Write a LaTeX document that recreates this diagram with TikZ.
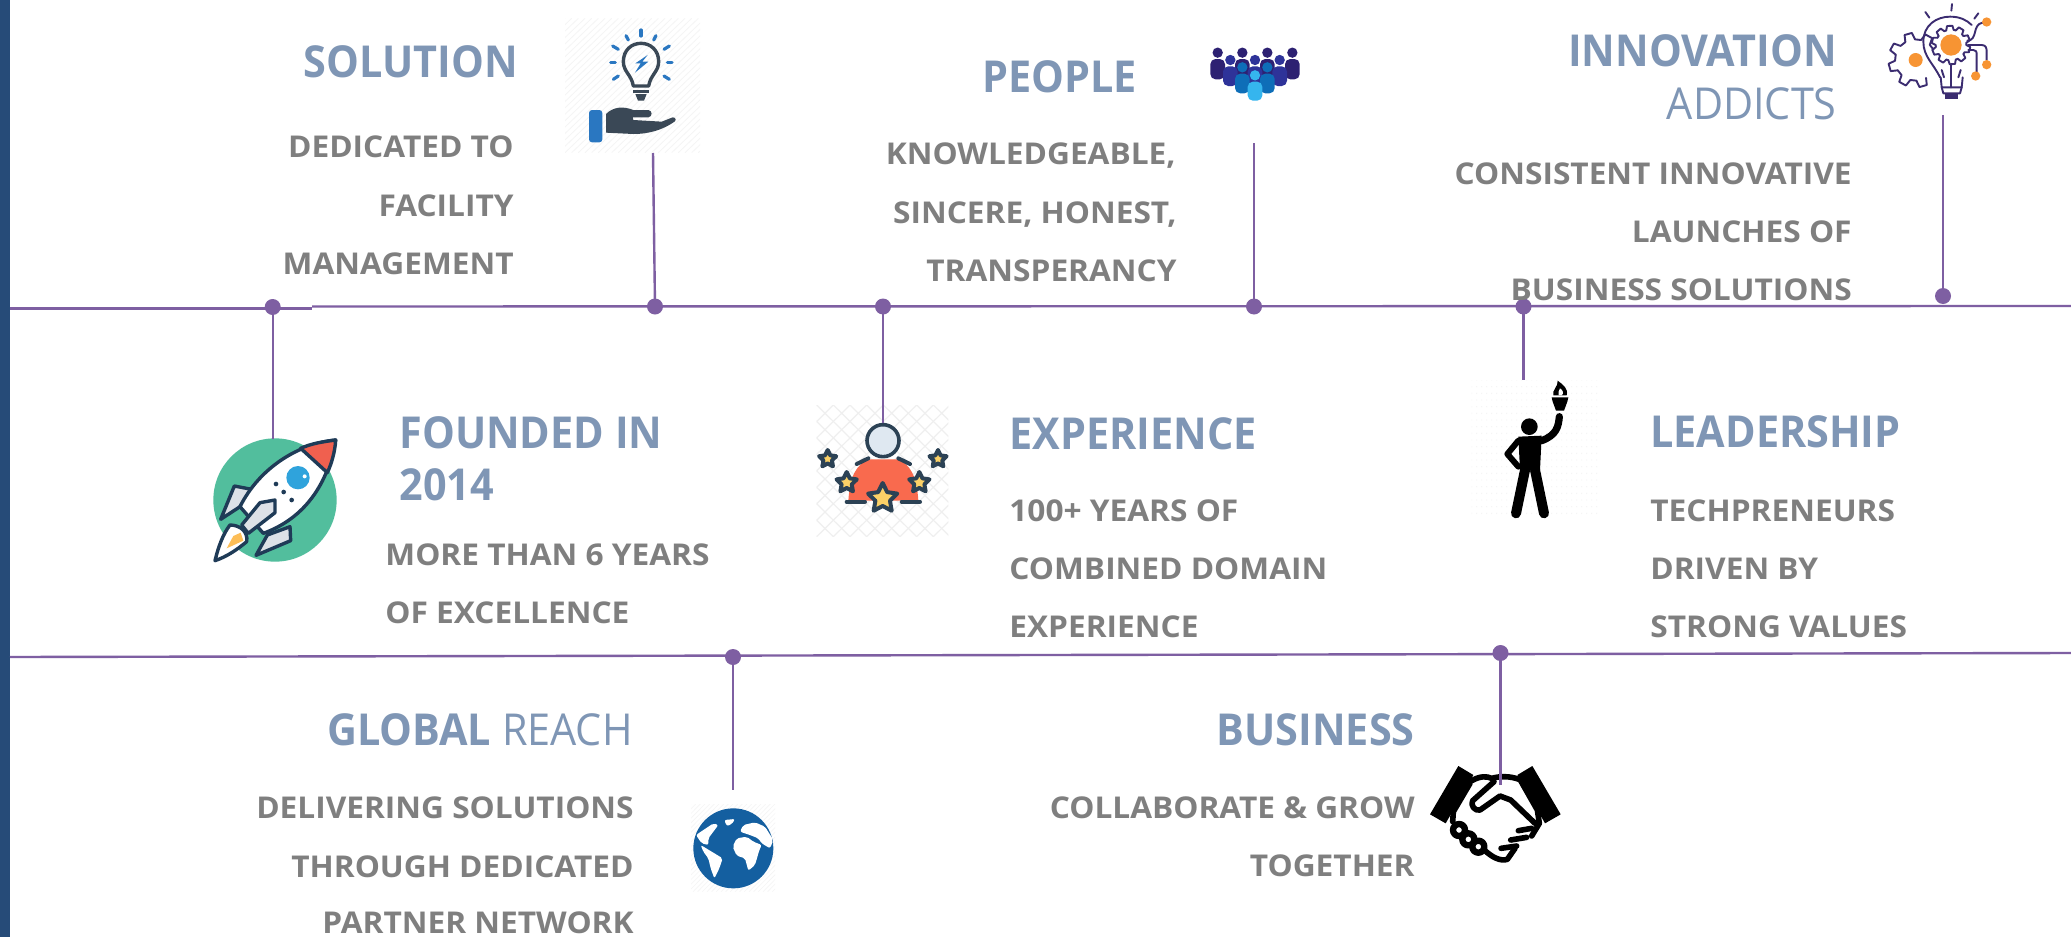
\documentclass[tikz,border=0pt]{standalone}
\usepackage{fontspec}
\setmainfont{Open Sans}
\newfontfamily\headf[FakeStretch=0.94]{Open Sans}
\newfontfamily\bodyf[FakeStretch=1.055]{Open Sans}
\usetikzlibrary{calc}
\definecolor{tl}{HTML}{7E5FA2}
\definecolor{ttl}{HTML}{7F96B5}
\definecolor{bdy}{HTML}{7F7F7F}
\definecolor{barc}{HTML}{264B78}
\definecolor{slate}{HTML}{3A4856}
\definecolor{bblue}{HTML}{2A77C1}
\definecolor{gpurp}{HTML}{3B2C70}
\definecolor{gor}{HTML}{F79433}
\definecolor{rdark}{HTML}{1F3B57}
\definecolor{fnt}{HTML}{EFEFEF}
\definecolor{pa}{HTML}{2D2172}
\definecolor{pb}{HTML}{2E3399}
\definecolor{pc}{HTML}{0E6EB8}
\definecolor{pd}{HTML}{35B5EE}
\definecolor{rockg}{HTML}{52BE9D}
\definecolor{rockr}{HTML}{F0604F}
\definecolor{rockb}{HTML}{2FA3DC}
\definecolor{rockf}{HTML}{FDBE57}
\definecolor{expr}{HTML}{F96A4E}
\definecolor{expy}{HTML}{FBD167}
\definecolor{expd}{HTML}{2C4255}
\definecolor{exph}{HTML}{DFE8F1}
\definecolor{glb}{HTML}{145FA0}
\tikzset{
 headtxt/.style={inner sep=0pt,text=ttl,font=\headf\fontsize{22}{26}\selectfont\bfseries},
 bodytxt/.style={inner sep=0pt,text=bdy,font=\bodyf\fontsize{15}{18}\selectfont\bfseries},
 tldot/.style={circle,fill=tl,inner sep=0pt,minimum size=8pt},
 tlline/.style={draw=tl,line width=1.2pt},
 icon/.style={x=0.16667pt,y=-0.16667pt},
}
\newcommand\zstar[3]{\begin{scope}[shift={(#1,#2)}]
 \draw[fill=expy,draw=expd,line width=2pt,line join=round]
 (270:#3)--(306:#3*.5)--(342:#3)--(18:#3*.5)--(54:#3)--(90:#3*.5)--(126:#3)--(162:#3*.5)--(198:#3)--(234:#3*.5)--cycle;
 \end{scope}}
\newcommand\zperson[4]{\fill[#4] (#1,#2) circle (15.5);
 \fill[#4,rounded corners=2.6pt] (#1-22,#3) -- (#1-22,#2+19) -- (#1+22,#2+19) -- (#1+22,#3) -- cycle;}
\begin{document}
\begin{tikzpicture}[x=0.5pt,y=-0.5pt]
\useasboundingbox (0,0) rectangle (2071,937);
\fill[white] (0,0) rectangle (2071,937);
\fill[barc] (0,0) rectangle (10,937);

% ---- icons ----
% bulb and hand
\begin{scope}[shift={(550,10)},icon]
 \begin{scope}
  \clip (45,25) rectangle (450,428);
  \foreach \i in {0,20,...,860} \draw[fnt!60!white,line width=.4pt] (45+\i-420,428)--(45+\i,25);
 \end{scope}
 \draw[slate,line width=1.7pt,line join=round] (250,228) .. controls (245,195) and (220,185) .. (220,155) .. controls (220,120) and (245,100) .. (273,100) .. controls (301,100) and (326,120) .. (326,155) .. controls (326,185) and (301,195) .. (296,228) -- cycle;
 \draw[slate,line width=1.5pt] (250,243)--(296,243);
 \fill[slate] (256,252)--(290,252)--(282,272)--(264,272)--cycle;
 \fill[bblue] (293,135)--(256,160)--(272,160)--(255,188)--(295,155)--(277,155)--cycle;
 \foreach \a/\b/\c/\d in {273/60/273/78,228/77/235/90,318/77/311/90,188/108/205/118,358/108/342/118,182/157/196/157,352/157/366/157,190/208/205/198,358/208/342/198}
  \draw[bblue,line width=1.6pt,line cap=round] (\a,\b)--(\c,\d);
 \fill[bblue,rounded corners=1.5pt] (117,300)--(157,300)--(157,397)--(117,397)--cycle;
 \fill[slate] (168,312) .. controls (190,290) and (220,288) .. (250,300) -- (295,300) .. controls (308,302) and (308,320) .. (295,322) -- (248,322) -- (250,330) -- (335,335) -- (368,322) .. controls (378,322) and (380,332) .. (372,336) .. controls (340,358) and (300,372) .. (250,372) -- (168,368) -- cycle;
\end{scope}

% people
\begin{scope}[shift={(1190,10)},icon]
 \foreach \c in {83,157,232,307} {\zperson{\c}{128}{208}{pa}}
 \foreach \c in {121,195,269} {\zperson{\c}{150}{228}{pb}}
 \foreach \c in {157,232} {\zperson{\c}{172}{250}{pc}}
 \zperson{195}{196}{272}{pd}
\end{scope}

% gear bulb
\begin{scope}[shift={(1840,0)},icon]
 \begin{scope}[line width=.95pt,draw=gpurp,gpurp,line join=round,line cap=round]
  \foreach \p in {0,36,...,324} {
    \begin{scope}[shift={(333,135)},rotate=\p]
    \draw (0:46)--(6:58)--(22:58)--(28:46)--(36:46);
    \end{scope}}
  \foreach \p in {75,120,...,300} {
    \begin{scope}[shift={(227,180)},rotate=\p]
    \draw (0:62)--(6:82)--(22:82)--(28:62)--(45:62);
    \end{scope}}
  \draw (300,232) .. controls (280,190) and (250,170) .. (250,125) .. controls (250,75) and (290,50) .. (330,50) .. controls (360,50) and (380,60) .. (395,75);
  \draw (302,232) -- (305,262) -- (365,262) -- (368,232);
  \draw (305,262) -- (310,280) -- (360,280) -- (365,262);
  \fill (315,280) rectangle (355,298);
  \draw (333,195)--(333,262);
  \draw (305,210)--(312,232); \draw (362,210)--(355,232);
  \draw (382,122) .. controls (415,120) and (395,75) .. (427,68);
  \draw (385,135)--(425,135) .. controls (438,135) and (440,145) .. (440,155) -- (440,180);
  \draw (385,150)--(400,150) .. controls (408,150) and (410,155) .. (410,165) -- (410,215);
  \draw (336,12)--(334,32); \draw (256,36)--(268,53); \draw (415,40)--(403,56);
 \end{scope}
 \fill[gor] (333,135) circle (32);
 \fill[gor] (227,180) circle (21);
 \fill[gor] (440,66) circle (14);
 \fill[gor] (440,194) circle (14);
 \fill[gor] (407,228) circle (14);
\end{scope}

% rocket
\begin{scope}[shift={(180,410)},icon]
 \fill[rockg] (285,270) circle (185);
 \definecolor{fing}{HTML}{DDE1E7}
 \begin{scope}[draw=rdark,line width=1.7pt,line join=round]
  \draw[fill=fing] (163,228)--(215,238)--(180,290)--(122,328)--cycle;
  \draw[fill=fing] (330,350)--(332,392)--(228,436)--(262,375)--cycle;
  \draw[fill=white] (467,90) .. controls (360,100) and (240,170) .. (180,290) -- (250,370) .. controls (360,330) and (440,240) .. (467,90) -- cycle;
  \draw[fill=rockr] (362,115) .. controls (395,100) and (430,95) .. (467,90) .. controls (465,125) and (455,160) .. (442,188) -- cycle;
  \draw[fill=fing] (285,270)--(285,308)--(205,370)--(185,345)--(240,278)--cycle;
  \draw[fill=white] (105,452) .. controls (115,410) and (130,370) .. (150,345) .. controls (180,345) and (205,365) .. (200,395) .. controls (170,420) and (140,440) .. (105,452) -- cycle;
 \end{scope}
 \fill[rockf] (140,415) -- (160,378) -- (182,368) -- (190,392) -- cycle;
 \fill[rockb] (354,203) circle (35);
 \fill[white] (374,199) circle (6);
 \fill[rdark] (288,222) circle (7) (311,246) circle (7) (335,270) circle (7);
\end{scope}

% experience
\begin{scope}[shift={(800,390)},icon]
 \begin{scope}
  \clip (50,45) rectangle (445,440);
  \foreach \i in {0,50,...,800} {
   \draw[fnt,line width=.6pt] (50+\i-400,440)--(50+\i,45);
   \draw[fnt,line width=.6pt] (50+\i-400,45)--(50+\i,440);}
 \end{scope}
 \fill[expr] (145,332) .. controls (150,255) and (170,225) .. (205,208) -- (295,208) .. controls (330,225) and (350,255) .. (355,332) -- cycle;
 \draw[expd,line width=2pt,line cap=round] (170,222) -- (205,205);
 \draw[expd,line width=2pt,line cap=round] (330,222) -- (295,205);
 \draw[expd,line width=2pt,line cap=round] (140,335)--(195,335) (305,335)--(360,335);
 \draw[expd,line width=1.8pt,fill=exph] (249,152) circle (48);
 \zstar{83}{207}{27}
 \zstar{414}{207}{27}
 \zstar{140}{278}{32}
 \zstar{358}{278}{32}
 \zstar{248}{325}{46}
\end{scope}

% leader
\begin{scope}[shift={(1460,370)},icon]
 \begin{scope}
  \clip (35,30) rectangle (415,445);
  \foreach \i in {35,50,...,415} \foreach \j in {30,50,...,445}
   \fill[fnt!70!white] (\i,\j) circle (2);
 \end{scope}
 \fill[black] (208,170) circle (25);
 \fill[black] (175,200)--(245,197)--(240,300)--(180,300)--cycle;
 \draw[black,line width=3pt,line cap=round,line join=round] (175,212)--(142,252)--(175,290);
 \draw[black,line width=5pt,line cap=round] (195,300)--(168,430) (225,300)--(252,430);
 \draw[black,line width=3.6pt,line cap=round] (245,212) .. controls (290,195) and (295,170) .. (298,140);
 \fill[black] (275,82)--(325,82)--(322,95)--(312,122)--(288,122)--(278,95)--cycle;
 \fill[black] (293,32) .. controls (310,45) and (325,55) .. (320,76) -- (280,76) .. controls (275,60) and (295,50) .. (293,32) -- cycle;
 \fill[white] (300,55) .. controls (310,62) and (312,70) .. (305,76) -- (296,76) .. controls (292,68) and (298,62) .. (300,55) -- cycle;
\end{scope}

% globe
\begin{scope}[shift={(680,790)},icon]
 \begin{scope}
  \clip (33,42) rectangle (285,305);
  \foreach \i in {0,14,...,520} \draw[fnt!60!white,line width=.3pt] (33+\i-260,305)--(33+\i,42);
 \end{scope}
 \fill[glb] (160,175) circle (120);
 \begin{scope}
  \clip (160,175) circle (120);
  \begin{scope}[rounded corners=1pt]
  \fill[white] (48,135)--(100,100)--(115,105)--(100,125)--(85,145)--(85,165)--(65,160)--cycle;
  \fill[white] (62,165)--(95,185)--(128,205)--(118,235)--(103,265)--(92,235)--(85,205)--(70,185)--cycle;
  \fill[white] (133,90)--(165,87)--(155,103)--(140,108)--cycle;
  \fill[white] (158,170)--(170,145)--(200,140)--(220,155)--(245,165)--(238,180)--(225,225)--(205,242)--(195,205)--(170,197)--cycle;
  \fill[white] (180,125)--(190,105)--(225,97)--(255,110)--(280,150)--(270,175)--(245,160)--(235,145)--(210,135)--cycle;
  \end{scope}
 \end{scope}
\end{scope}

% handshake
\begin{scope}[shift={(1420,760)},icon]
 \fill[black] (115,18)--(160,45)--(77,190)--(30,163)--cycle;
 \fill[black] (337,18)--(422,163)--(375,190)--(292,45)--cycle;
 \begin{scope}[draw=black,line width=2.8pt,line join=round,line cap=round]
  \draw (155,62) .. controls (180,48) and (200,48) .. (215,55) .. controls (240,48) and (270,48) .. (297,58);
  \draw (150,70) -- (100,155) -- (98,185);
  \draw (302,62) -- (352,150) -- (358,190) -- (335,228);
  \draw (222,65) -- (158,122) .. controls (150,135) and (165,155) .. (180,150) -- (240,108) -- (272,120) -- (345,190);
  \draw (295,212) -- (335,205);
  \draw (272,240) -- (320,232);
  \draw (243,265) -- (290,258);
  \draw (195,272) .. controls (215,290) and (240,305) .. (262,298) -- (285,265);
  \draw[line width=3.2pt] (117,210) circle (18) (145,238) circle (18) (175,260) circle (18);
 \end{scope}
\end{scope}

% ---- timeline ----
\coordinate (ta) at (10,308.5);
\coordinate (tb) at (312,308.5);
\coordinate (tc) at (312,306.5);
\coordinate (td) at (2071,306);
\coordinate (ba) at (10,657);
\coordinate (bb) at (2071,653);
\draw[tlline] (ta)--(tb);
\draw[tlline] (tc)--(td);
\draw[tlline] (ba)--(bb);

\node[tldot] (d1) at (272.7,307) {};
\node[tldot] (d2) at (655,306.5) {};
\node[tldot] (d3) at (883,306.5) {};
\node[tldot] (d4) at (1254,306.5) {};
\node[tldot] (d5) at (1523.5,306.5) {};
\node[tldot] (d6) at (1943,296) {};
\node[tldot] (d7) at (733,657) {};
\node[tldot] (d8) at (1500.5,653) {};

\coordinate (e1) at (272.7,439);
\coordinate (e2) at (653,153);
\coordinate (e3) at (883,423);
\coordinate (e4) at (1254,143);
\coordinate (e5) at (1523.5,380);
\coordinate (e6) at (1943,115);
\coordinate (e7) at (733,790);
\coordinate (e8) at (1500.5,785);
\foreach \k in {1,...,8} \draw[tlline] (d\k.center)--(e\k);

% ---- texts ----
\node[headtxt,anchor=base east] (t1) at (518,77) {SOLUTION};
\node[bodytxt,anchor=base east] (t1a) at (514,157) {DEDICATED TO};
\node[bodytxt,anchor=base east] (t1b) at (514,216) {FACILITY};
\node[bodytxt,anchor=base east] (t1c) at (514,274) {MANAGEMENT};

\node[headtxt,anchor=base east] (t2) at (1137,92) {PEOPLE};
\node[bodytxt,anchor=base east] (t2a) at (1176,164.5) {KNOWLEDGEABLE,};
\node[bodytxt,anchor=base east] (t2b) at (1177,223) {SINCERE, HONEST,};
\node[bodytxt,anchor=base east] (t2c) at (1177,281) {TRANSPERANCY};

\node[headtxt,anchor=base east] (t3) at (1837,66) {INNOVATION};
\node[headtxt,anchor=base east,font=\headf\fontsize{22}{26}\selectfont] (t3b) at (1837,119) {ADDICTS};
\node[bodytxt,anchor=base east] (t3c) at (1852,184) {CONSISTENT INNOVATIVE};
\node[bodytxt,anchor=base east] (t3d) at (1852,242) {LAUNCHES OF};
\node[bodytxt,anchor=base east] (t3e) at (1852,300) {BUSINESS SOLUTIONS};

\node[headtxt,anchor=base west] (t4) at (399,448) {FOUNDED IN};
\node[headtxt,anchor=base west] (t4b) at (399,500) {2014};
\node[bodytxt,anchor=base west] (t4c) at (385,565) {MORE THAN 6 YEARS};
\node[bodytxt,anchor=base west] (t4d) at (385,623) {OF EXCELLENCE};

\node[headtxt,anchor=base west] (t5) at (1009,449) {EXPERIENCE};
\node[bodytxt,anchor=base west] (t5a) at (1009,521) {100+ YEARS OF};
\node[bodytxt,anchor=base west] (t5b) at (1009,579) {COMBINED DOMAIN};
\node[bodytxt,anchor=base west] (t5c) at (1009,637) {EXPERIENCE};

\node[headtxt,anchor=base west] (t6) at (1650,447) {LEADERSHIP};
\node[bodytxt,anchor=base west] (t6a) at (1650,521) {TECHPRENEURS};
\node[bodytxt,anchor=base west] (t6b) at (1650,579) {DRIVEN BY};
\node[bodytxt,anchor=base west] (t6c) at (1650,637) {STRONG VALUES};

\node[headtxt,anchor=base east] (t7) at (633,745) {GLOBAL {\mdseries REACH}};
\node[bodytxt,anchor=base east] (t7a) at (634,818) {DELIVERING SOLUTIONS};
\node[bodytxt,anchor=base east] (t7b) at (634,877) {THROUGH DEDICATED};
\node[bodytxt,anchor=base east] (t7c) at (634,933.5) {PARTNER NETWORK};

\node[headtxt,anchor=base east] (t8) at (1415,745) {BUSINESS};
\node[bodytxt,anchor=base east] (t8a) at (1415,818) {COLLABORATE \& GROW};
\node[bodytxt,anchor=base east] (t8b) at (1415,876) {TOGETHER};
\end{tikzpicture}
\end{document}
